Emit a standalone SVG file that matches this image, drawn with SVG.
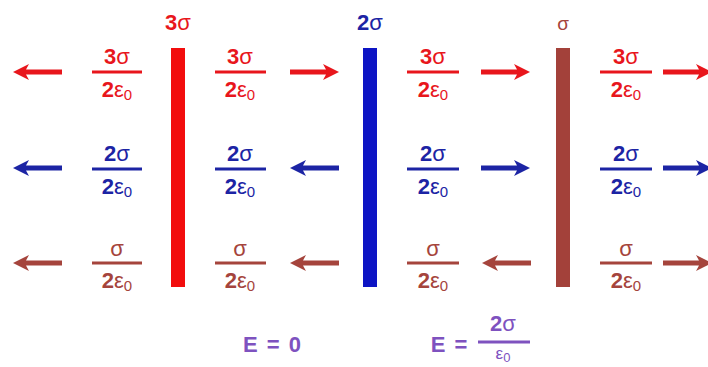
<svg xmlns="http://www.w3.org/2000/svg" xmlns:xlink="http://www.w3.org/1999/xlink" width="708" height="367" viewBox="0 0 708 367">
<style>
text{font-family:"Liberation Sans",Arial,sans-serif;font-weight:bold;font-size:22px;text-anchor:middle}
.g{font-weight:normal}
.s{font-weight:normal;font-size:15px}
.r{fill:#e8161c}.b{fill:#1c24a4}.w{fill:#a5443c}.p{fill:#7e52bf}
.lr{stroke:#e8161c;stroke-width:3}.lb{stroke:#1c24a4;stroke-width:3}.lw{stroke:#a5443c;stroke-width:3}.lp{stroke:#7e52bf;stroke-width:3}
</style>
<defs>
<path id="ar" d="M0,0 L-16,-8 L-13,-2.5 L-49,-2.5 L-49,2.5 L-13,2.5 L-16,8 Z"/>
</defs>
<rect width="708" height="367" fill="#ffffff"/>
<g id="plate1"><rect x="171" y="48" width="14" height="239" fill="#f20d0d"/><text x="178" y="30" class="r">3<tspan class="g">σ</tspan></text></g>
<g id="plate2"><rect x="363" y="48" width="14" height="239" fill="#0d14c4"/><text x="370" y="30" class="b">2<tspan class="g">σ</tspan></text></g>
<g id="plate3"><rect x="556" y="48" width="14" height="239" fill="#a3413a"/><text x="563" y="30" class="w g" style="font-size:19px">σ</text></g>
<g id="arrows">
<use xlink:href="#ar" transform="translate(13,72) scale(-1,1)" class="r"/>
<use xlink:href="#ar" transform="translate(339,72)" class="r"/>
<use xlink:href="#ar" transform="translate(530,72)" class="r"/>
<use xlink:href="#ar" transform="translate(712,72)" class="r"/>
<use xlink:href="#ar" transform="translate(13,168) scale(-1,1)" class="b"/>
<use xlink:href="#ar" transform="translate(290,168) scale(-1,1)" class="b"/>
<use xlink:href="#ar" transform="translate(530,168)" class="b"/>
<use xlink:href="#ar" transform="translate(712,168)" class="b"/>
<use xlink:href="#ar" transform="translate(13,263) scale(-1,1)" class="w"/>
<use xlink:href="#ar" transform="translate(290,263) scale(-1,1)" class="w"/>
<use xlink:href="#ar" transform="translate(482,263) scale(-1,1)" class="w"/>
<use xlink:href="#ar" transform="translate(712,263)" class="w"/>
</g>
<g id="fr-red">
<line x1="92" y1="72" x2="142" y2="72" class="lr"/><text x="117" y="64" class="r">3<tspan class="g">σ</tspan></text><text x="117" y="97" class="r">2<tspan class="g">ε</tspan><tspan class="s" dy="3">0</tspan></text>
<line x1="215" y1="72" x2="266" y2="72" class="lr"/><text x="240" y="64" class="r">3<tspan class="g">σ</tspan></text><text x="240" y="97" class="r">2<tspan class="g">ε</tspan><tspan class="s" dy="3">0</tspan></text>
<line x1="407" y1="72" x2="459" y2="72" class="lr"/><text x="433" y="64" class="r">3<tspan class="g">σ</tspan></text><text x="433" y="97" class="r">2<tspan class="g">ε</tspan><tspan class="s" dy="3">0</tspan></text>
<line x1="600" y1="72" x2="652" y2="72" class="lr"/><text x="626" y="64" class="r">3<tspan class="g">σ</tspan></text><text x="626" y="97" class="r">2<tspan class="g">ε</tspan><tspan class="s" dy="3">0</tspan></text>
</g>
<g id="fr-blue">
<line x1="92" y1="169" x2="142" y2="169" class="lb"/><text x="117" y="161" class="b">2<tspan class="g">σ</tspan></text><text x="117" y="194" class="b">2<tspan class="g">ε</tspan><tspan class="s" dy="3">0</tspan></text>
<line x1="215" y1="169" x2="266" y2="169" class="lb"/><text x="240" y="161" class="b">2<tspan class="g">σ</tspan></text><text x="240" y="194" class="b">2<tspan class="g">ε</tspan><tspan class="s" dy="3">0</tspan></text>
<line x1="407" y1="169" x2="459" y2="169" class="lb"/><text x="433" y="161" class="b">2<tspan class="g">σ</tspan></text><text x="433" y="194" class="b">2<tspan class="g">ε</tspan><tspan class="s" dy="3">0</tspan></text>
<line x1="600" y1="169" x2="652" y2="169" class="lb"/><text x="626" y="161" class="b">2<tspan class="g">σ</tspan></text><text x="626" y="194" class="b">2<tspan class="g">ε</tspan><tspan class="s" dy="3">0</tspan></text>
</g>
<g id="fr-brown">
<line x1="92" y1="263" x2="142" y2="263" class="lw"/><text x="117" y="256" class="w g">σ</text><text x="117" y="288" class="w">2<tspan class="g">ε</tspan><tspan class="s" dy="3">0</tspan></text>
<line x1="215" y1="263" x2="266" y2="263" class="lw"/><text x="240" y="256" class="w g">σ</text><text x="240" y="288" class="w">2<tspan class="g">ε</tspan><tspan class="s" dy="3">0</tspan></text>
<line x1="407" y1="263" x2="459" y2="263" class="lw"/><text x="433" y="256" class="w g">σ</text><text x="433" y="288" class="w">2<tspan class="g">ε</tspan><tspan class="s" dy="3">0</tspan></text>
<line x1="600" y1="263" x2="652" y2="263" class="lw"/><text x="626" y="256" class="w g">σ</text><text x="626" y="288" class="w">2<tspan class="g">ε</tspan><tspan class="s" dy="3">0</tspan></text>
</g>
<g id="result1"><text x="272" y="352" class="p" style="word-spacing:3px">E = 0</text></g>
<g id="result2">
<text x="449" y="352" class="p" style="word-spacing:3px">E =</text>
<line x1="478" y1="342" x2="530" y2="342" class="lp"/>
<text x="503" y="331" class="p">2<tspan class="g">σ</tspan></text>
<text x="503" y="359" class="p g" style="font-size:17px">ε<tspan class="s" style="font-size:13px" dy="3">0</tspan></text>
</g>
</svg>
